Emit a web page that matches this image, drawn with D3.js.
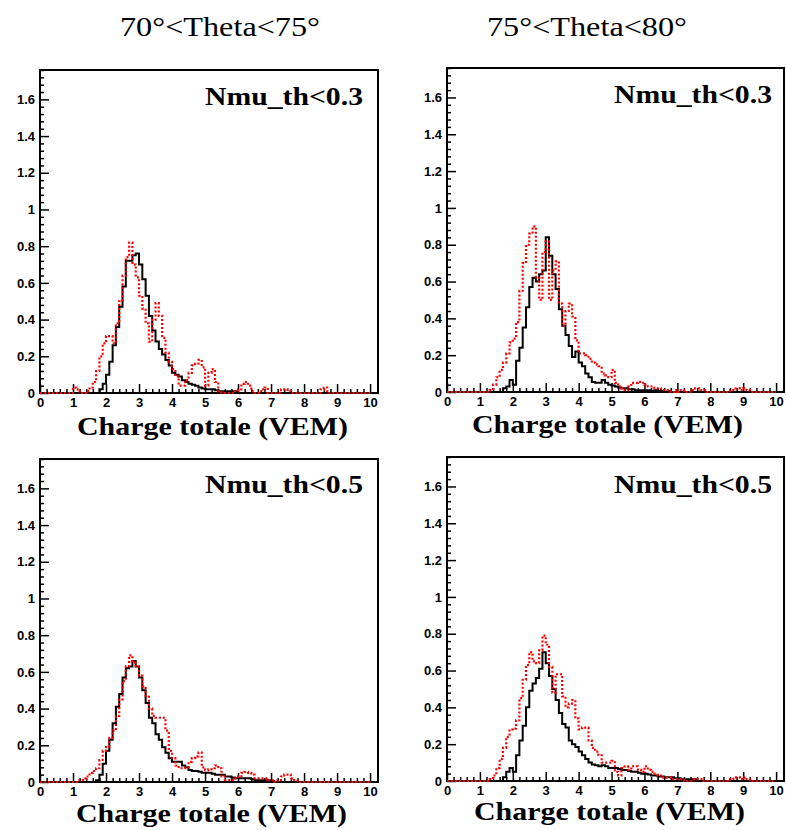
<!DOCTYPE html>
<html>
<head>
<meta charset="utf-8">
<script src="https://cdn.jsdelivr.net/npm/d3@7"></script>
<style>
body { margin: 0; background: #fff; }
svg { display: block; }
.tick text { font-family: Arial, "Liberation Sans", sans-serif; font-weight: bold; font-size: 13px; fill: #000; }
.tick line { stroke: #000; stroke-width: 1.5px; }
.serif { font-family: "Times New Roman", "Liberation Serif", serif; fill: #000; }
</style>
</head>
<body>
<svg width="786" height="830"></svg>
<script>
// histogram contents, bins of 0.1 VEM starting at 1.0 (everything else is 0)
const binStart = 1.0;
const binWidth = 0.1;

const thetaTitles = ['70°<Theta<75°', '75°<Theta<80°'];
const cutLabels = ['Nmu_th<0.3', 'Nmu_th<0.5'];
const xTicks = [0, 1, 2, 3, 4, 5, 6, 7, 8, 9, 10];
const yTicks = [0, 0.2, 0.4, 0.6, 0.8, 1, 1.2, 1.4, 1.6];

const black_70_03 = [0,0,0,0,0,0,0,0,.02,.05,
  .10,.17,.26,.36,.47,.58,.72,.72,.75,.76,
  .70,.62,.53,.42,.34,.28,.24,.21,.18,.15,
  .11,.10,.09,.07,.06,.05,.045,.04,.03,.025,
  .02,.02,.02,.015,.01,.01,.01,.01,.01,.01];
const red_70_03 = [.03,.02,0,0,.01,.03,.06,.12,.20,.27,
  .31,.31,.27,.38,.50,.64,.74,.82,.70,.63,
  .53,.46,.38,.28,.40,.49,.42,.30,.22,.17,
  .13,.09,.04,.04,.07,.11,.15,.16,.18,.14,
  .04,.11,.13,.06,.01,0,0,0,0,.01,
  .02,.05,.06,.04,.01,0,0,.02,.03,0,
  0,0,0,.02,.02,.01,0,0,0,0,
  0,0,0,0,0,.02,.03,0];

const black_75_03 = [0,0,0,0,0,0,0,.02,.03,.065,
  .04,.17,.24,.35,.46,.57,.62,.60,.64,.66,
  .84,.74,.64,.56,.45,.36,.31,.25,.19,.22,
  .16,.14,.10,.08,.055,.05,.05,.065,.05,.04,
  .035,.03,.025,.02,.02,.015,.015,.01,.01,.01,
  .01,.01,.005,.01,.005,.005,0,.005];
const red_75_03 = [0,0,0,.01,.04,.08,.12,.16,.21,.27,
  .29,.38,.55,.70,.80,.86,.90,.62,.50,.76,
  .82,.50,.66,.71,.48,.36,.44,.48,.41,.28,
  .21,.21,.20,.18,.16,.15,.14,.10,.09,.08,
  .12,.05,.03,.02,.01,.03,.05,.05,.055,.05,
  .04,.03,.03,.02,.02,.01,.01,.01,0,.01,
  0,.01,0,0,.01,.02,.02,.01,.01,0,
  0,0,0,0,0,0,.01,.02,.02,.01,
  .02,.01];

const black_70_05 = [0,0,0,0,0,0,0,.01,.04,.10,
  .17,.23,.32,.41,.48,.57,.62,.63,.66,.63,
  .57,.50,.43,.35,.32,.26,.23,.19,.16,.13,
  .11,.11,.11,.09,.08,.065,.06,.06,.056,.05,
  .05,.05,.045,.04,.04,.04,.03,.03,.025,.02,
  .02,.02,.02,.02,.015,.01,.01,.01,.01,.01,
  .005];
const red_70_05 = [0,0,.01,.02,.03,.05,.06,.075,.12,.17,
  .19,.24,.28,.36,.45,.55,.63,.69,.65,.63,
  .58,.52,.47,.40,.36,.35,.35,.35,.28,.17,
  .13,.09,.075,.075,.08,.11,.13,.14,.16,.08,
  .065,.07,.075,.09,.075,.03,.01,.01,.01,.02,
  .03,.05,.055,.05,.04,.02,.02,.02,.02,.01,
  .01,0,.01,.03,.04,.04,.02,.01];

const black_75_05 = [0,0,0,0,0,0,0,.02,.05,.07,
  .05,.14,.22,.30,.40,.49,.53,.56,.61,.70,
  .64,.57,.50,.44,.37,.31,.29,.22,.20,.185,
  .16,.14,.12,.10,.09,.085,.08,.085,.08,.07,
  .07,.07,.065,.06,.06,.055,.05,.05,.045,.04,
  .04,.035,.03,.03,.025,.025,.02,.02,.02,.015,
  .015,.01,.01,.01,.01,.01];
const red_75_05 = [0,0,0,.01,.03,.07,.12,.18,.24,.28,
  .285,.33,.45,.55,.63,.70,.65,.64,.71,.79,
  .74,.62,.48,.58,.58,.46,.40,.42,.44,.34,
  .28,.29,.29,.22,.18,.16,.14,.10,.10,.10,
  .11,.05,.03,.07,.08,.06,.08,.08,.06,.05,
  .08,.06,.05,.04,.03,.02,.02,.02,.01,.01,
  .01,.01,0,0,0,.01,.01,.01,0,0,
  0,0,0,0,0,0,.01,.02,.02,.01,
  .02,.01];

const panels = [
  {left: 40, right: 378, top: 70, bottom: 393, black: black_70_03, red: red_70_03, cut: cutLabels[0], cutEnd: 363, cutY: 105, labX: 212, labY: 435},
  {left: 447, right: 784, top: 68, bottom: 392, black: black_75_03, red: red_75_03, cut: cutLabels[0], cutEnd: 772, cutY: 103, labX: 607, labY: 433},
  {left: 40, right: 378, top: 459, bottom: 782, black: black_70_05, red: red_70_05, cut: cutLabels[1], cutEnd: 363, cutY: 493, labX: 211, labY: 822},
  {left: 447, right: 784, top: 457, bottom: 781, black: black_75_05, red: red_75_05, cut: cutLabels[1], cutEnd: 772, cutY: 493, labX: 609, labY: 820}
];

const svg = d3.select('svg');

// column titles
svg.selectAll('text.title').data(thetaTitles)
  .enter().append('text')
    .attr('class', 'serif title')
    .attr('x', (d, i) => i === 0 ? 220 : 587)
    .attr('y', 36)
    .attr('text-anchor', 'middle')
    .attr('font-size', 28)
    .attr('textLength', 200)
    .attr('lengthAdjust', 'spacingAndGlyphs')
    .text(d => d);

// turn bin contents into step points over 0..10
const toPoints = vals => {
  const pts = [];
  for (let i = 0; i < 100; i++) {
    const x = i * binWidth;
    const k = Math.round((x - binStart) / binWidth);
    const v = (k >= 0 && k < vals.length) ? vals[k] : 0;
    pts.push([x, v]);
  }
  pts.push([10, pts[pts.length - 1][1]]);
  return pts;
};

const minorX = d3.range(0, 50).map(i => i * 0.2).filter(d => Math.abs(d - Math.round(d)) > 1e-6);
const minorY = d3.range(0, 45).map(i => i * 0.04).filter(d => d <= 1.76 && Math.abs(d * 5 - Math.round(d * 5)) > 1e-6);

panels.forEach((p, idx) => {
  const x = d3.scaleLinear().domain([0, 10.24]).range([p.left, p.right]);
  const y = d3.scaleLinear().domain([0, 1.76]).range([p.bottom, p.top]);

  const g = svg.append('g');

  const clipId = 'clip' + idx;
  g.append('clipPath').attr('id', clipId)
    .append('rect')
      .attr('x', p.left).attr('y', p.top)
      .attr('width', p.right - p.left).attr('height', p.bottom - p.top + 4);

  // axes (ticks point inside the frame)
  g.append('g')
    .attr('transform', `translate(0,${p.bottom})`)
    .call(d3.axisBottom(x).tickValues(minorX).tickSize(-4).tickFormat(''))
    .call(a => a.select('.domain').remove());
  g.append('g')
    .attr('transform', `translate(0,${p.bottom})`)
    .call(d3.axisBottom(x).tickValues(xTicks).tickSize(-9).tickPadding(5).tickFormat(d3.format('d')))
    .call(a => a.select('.domain').remove());

  g.append('g')
    .attr('transform', `translate(${p.left},0)`)
    .call(d3.axisLeft(y).tickValues(minorY).tickSize(-4).tickFormat(''))
    .call(a => a.select('.domain').remove());
  g.append('g')
    .attr('transform', `translate(${p.left},0)`)
    .call(d3.axisLeft(y).tickValues(yTicks).tickSize(-9).tickPadding(5).tickFormat(d => String(+d.toFixed(1))))
    .call(a => a.select('.domain').remove());

  // frame
  g.append('rect')
    .attr('x', p.left).attr('y', p.top)
    .attr('width', p.right - p.left).attr('height', p.bottom - p.top)
    .attr('fill', 'none')
    .attr('stroke', '#000')
    .attr('stroke-width', 2);

  const line = d3.line()
    .x(d => x(d[0]))
    .y(d => y(d[1]))
    .curve(d3.curveStepAfter);

  const plot = g.append('g').attr('clip-path', `url(#${clipId})`);

  plot.append('path')
    .attr('d', line(toPoints(p.black)))
    .attr('fill', 'none')
    .attr('stroke', '#000')
    .attr('stroke-width', 2);

  plot.append('path')
    .attr('d', line(toPoints(p.red)))
    .attr('fill', 'none')
    .attr('stroke', '#ff0000')
    .attr('stroke-width', 2.2)
    .attr('stroke-dasharray', '2,2');

  // cut label
  g.append('text')
    .attr('class', 'serif')
    .attr('x', p.cutEnd - 158)
    .attr('y', p.cutY)
    .attr('font-size', 25)
    .attr('font-weight', 'bold')
    .attr('textLength', 158)
    .attr('lengthAdjust', 'spacingAndGlyphs')
    .text(p.cut);

  // x axis title
  g.append('text')
    .attr('class', 'serif')
    .attr('x', p.labX - 135)
    .attr('y', p.labY)
    .attr('font-size', 25)
    .attr('font-weight', 'bold')
    .attr('textLength', 271)
    .attr('lengthAdjust', 'spacingAndGlyphs')
    .text('Charge totale (VEM)');
});
</script>
</body>
</html>
